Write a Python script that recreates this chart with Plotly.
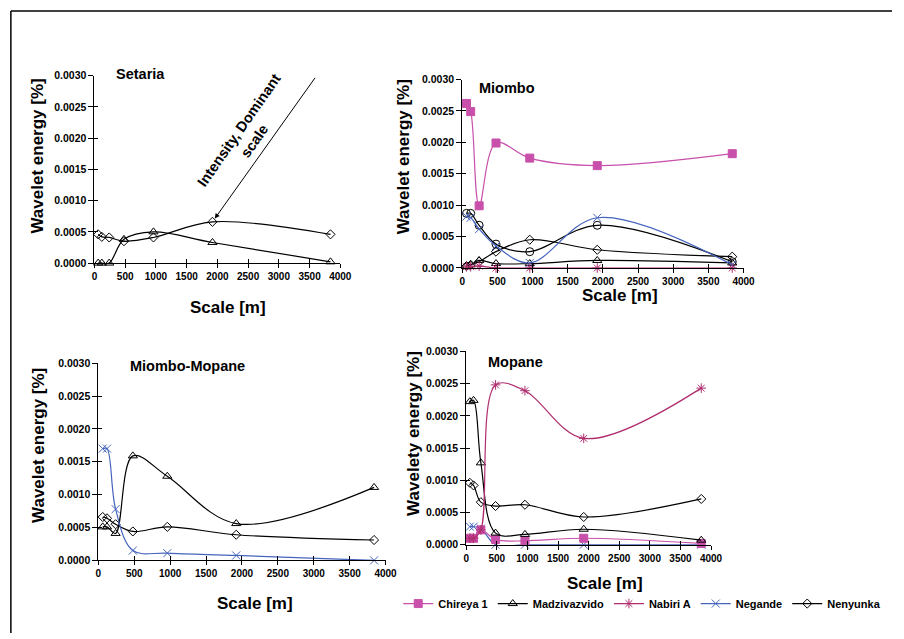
import plotly.graph_objects as go

W, H = 904, 639
FONT = "Liberation Sans, Arial, sans-serif"

# ---------------- data ----------------
scales = [60, 120, 240, 480, 960, 1920, 3840]
x_ticks = [0, 500, 1000, 1500, 2000, 2500, 3000, 3500, 4000]
y_ticks = [0.0, 0.0005, 0.0010, 0.0015, 0.0020, 0.0025, 0.0030]
y_tick_text = ["0.0000", "0.0005", "0.0010", "0.0015", "0.0020", "0.0025", "0.0030"]

# Setaria
set_madz = [0.0, 0.0, 0.0, 0.00038, 0.00050, 0.00033, 0.00002]
set_neny = [0.00046, 0.00042, 0.00041, 0.00035, 0.00041, 0.00066, 0.00046]

# Miombo
mio_chir = [0.00262, 0.00249, 0.00099, 0.00199, 0.00175, 0.00163, 0.00182]
mio_madz = [0.00003, 0.00005, 0.00012, 0.00007, 0.00007, 0.00012, 0.00008]
mio_nabi = [0.00002, 0.00002, 0.00003, 0.0, 0.0, 0.0, 0.0]
mio_nega = [0.00082, 0.00080, 0.00062, 0.00035, 0.00008, 0.00080, 0.00005]
mio_neny = [0.00003, 0.00005, 0.00010, 0.00026, 0.00045, 0.00029, 0.00018]
mio_circ = [0.00087, 0.00087, 0.00068, 0.00038, 0.00026, 0.00068, 0.00010]

# Miombo-Mopane
mm_madz = [0.00051, 0.00051, 0.00041, 0.00159, 0.00128, 0.00056, 0.00111]
mm_nega = [0.00170, 0.00170, 0.00078, 0.00015, 0.00011, 0.000075, 0.0]
mm_neny = [0.00066, 0.00064, 0.00055, 0.00044, 0.00051, 0.00039, 0.00031]

# Mopane
mop_chir = [0.00010, 0.00010, 0.00023, 0.00008, 0.00006, 0.00010, 0.00002]
mop_madz = [0.00222, 0.00224, 0.00127, 0.00018, 0.00016, 0.00024, 0.00007]
mop_nabi = [0.00010, 0.00010, 0.00023, 0.00248, 0.00239, 0.00165, 0.00243]
mop_nega = [0.00028, 0.00028, 0.00025, 0.0, 0.0, 0.0, 0.0]
mop_neny = [0.00096, 0.00092, 0.00066, 0.00060, 0.00062, 0.00043, 0.00071]

# ---------------- styles ----------------
STYLE = {
    "Chireya 1": dict(color="#C850AA", symbol="square", size=8),
    "Madzivazvido": dict(color="#000000", symbol="triangle-up-open", size=8),
    "Nabiri A": dict(color="#AF2D6E", symbol="asterisk-open", size=8),
    "Negande": dict(color="#4664BE", symbol="x-thin-open", size=8),
    "Nenyunka": dict(color="#000000", symbol="diamond-open", size=7),
    "Other": dict(color="#000000", symbol="circle-open", size=8),
}
ORDER = ["Chireya 1", "Madzivazvido", "Nabiri A", "Negande", "Nenyunka"]

# panel pixel boxes: (x0, x1, ytop, ybottom)
PANELS = {
    1: (93, 343, 71, 262),
    2: (467, 753, 75, 267),
    3: (97, 389, 364, 565),
    4: (471, 720, 352, 549),
}

fig = go.Figure()


def add(panel, name, values, legend=False):
    st = STYLE[name]
    sfx = "" if panel == 1 else str(panel)
    fig.add_trace(go.Scatter(
        x=scales, y=values, name=name, mode="lines+markers",
        line=dict(color=st["color"], width=1.2, shape="spline", smoothing=1.0),
        marker=dict(symbol=st["symbol"], size=st["size"], color=st["color"],
                    line=dict(color=st["color"], width=1)),
        xaxis="x" + sfx, yaxis="y" + sfx, cliponaxis=False,
        legendgroup=name, showlegend=legend,
        legendrank=ORDER.index(name) + 1 if name in ORDER else 100,
    ))


add(1, "Madzivazvido", set_madz)
add(1, "Nenyunka", set_neny)

add(2, "Other", mio_circ)
add(2, "Madzivazvido", mio_madz)
add(2, "Nenyunka", mio_neny)
add(2, "Negande", mio_nega)
add(2, "Nabiri A", mio_nabi)
add(2, "Chireya 1", mio_chir)

add(3, "Madzivazvido", mm_madz)
add(3, "Nenyunka", mm_neny)
add(3, "Negande", mm_nega)

add(4, "Nenyunka", mop_neny, True)
add(4, "Negande", mop_nega, True)
add(4, "Chireya 1", mop_chir, True)
add(4, "Madzivazvido", mop_madz, True)
add(4, "Nabiri A", mop_nabi, True)

layout = dict(
    width=W, height=H,
    margin=dict(l=0, r=0, t=0, b=0),
    paper_bgcolor="white", plot_bgcolor="white",
    font=dict(family=FONT, color="black"),
    showlegend=True,
    legend=dict(orientation="h", x=650 / W, xanchor="center",
                y=1 - 609 / H, yanchor="middle",
                font=dict(family=FONT, size=11, weight="bold"),
                itemwidth=30, bgcolor="rgba(0,0,0,0)",
                traceorder="normal"),
)

for p, (x0, x1, yt, yb) in PANELS.items():
    sfx = "" if p == 1 else str(p)
    xd = [x0 / W, x1 / W]
    yd = [1 - yb / H, 1 - yt / H]
    layout["xaxis" + sfx] = dict(
        domain=xd, range=[0, 4000], anchor="y" + sfx,
        tickvals=x_ticks, ticks="outside", ticklen=4, tickcolor="black",
        showline=True, linecolor="black", linewidth=1, showgrid=False, zeroline=False,
        tickfont=dict(family=FONT, size=10, weight="bold"),
    )
    layout["yaxis" + sfx] = dict(
        domain=yd, range=[0, 0.003], anchor="x" + sfx,
        tickvals=y_ticks, ticktext=y_tick_text, ticks="outside", ticklen=5,
        tickcolor="black", showline=True, linecolor="black", linewidth=1,
        showgrid=False, zeroline=False,
        tickfont=dict(family=FONT, size=10.5, weight="bold"),
    )
    # overlay axes that add the inner half of the crossing tick marks
    o = str(p + 4)
    layout["xaxis" + o] = dict(
        domain=xd, range=[0, 4000], anchor="y" + sfx, overlaying="x" + sfx,
        tickvals=x_ticks, ticks="inside", ticklen=4, tickcolor="black",
        showticklabels=False, showline=False, showgrid=False, zeroline=False,
    )
    layout["yaxis" + o] = dict(
        domain=yd, range=[0, 0.003], anchor="x" + sfx, overlaying="y" + sfx,
        tickvals=y_ticks, ticks="inside", ticklen=4, tickcolor="black",
        showticklabels=False, showline=False, showgrid=False, zeroline=False,
    )
    fig.add_trace(go.Scatter(x=[], y=[], xaxis="x" + o, yaxis="y" + o,
                             showlegend=False, hoverinfo="skip"))

fig.update_layout(**layout)


def px_ann(text, cx, cy, size, angle=0):
    fig.add_annotation(
        text=text, x=cx / W, y=1 - cy / H, xref="paper", yref="paper",
        showarrow=False, textangle=angle, xanchor="center", yanchor="middle",
        font=dict(family=FONT, size=size, color="black", weight="bold"),
    )


# axis titles
px_ann("Wavelet energy [%]", 35, 153, 17, -90)
px_ann("Scale [m]", 229, 307, 17)
px_ann("Wavelet energy [%]", 407, 154, 17, -90)
px_ann("Scale [m]", 627, 295, 17)
px_ann("Wavelet energy [%]", 36, 448, 17, -90)
px_ann("Scale [m]", 256, 609, 17)
px_ann("Wavelety energy [%]", 418, 436, 17, -90)
px_ann("Scale [m]", 612, 589, 17)

# panel titles
px_ann("Setaria", 140, 69, 14.5)
px_ann("Miombo", 513, 84, 14.5)
px_ann("Miombo-Mopane", 188, 367, 14.5)
px_ann("Mopane", 521, 363, 14.5)

# Setaria annotation: arrow to the dominant-scale point
fig.add_annotation(
    x=scales[5], y=set_neny[5], xref="x", yref="y",
    text=" ", font=dict(size=1), showarrow=True,
    ax=104, ay=-146, arrowhead=2, arrowsize=1, arrowwidth=1,
    arrowcolor="black", standoff=4,
)
px_ann("Intensity, Dominant<br>scale", 248, 132, 14.5, -55)

# outer frame (left and top edges)
fig.add_shape(type="line", xref="paper", yref="paper",
              x0=8 / W, x1=8 / W, y0=0, y1=1 - 5 / H,
              line=dict(color="black", width=1.5))
fig.add_shape(type="line", xref="paper", yref="paper",
              x0=8 / W, x1=1, y0=1 - 5 / H, y1=1 - 5 / H,
              line=dict(color="black", width=1.5))

fig.write_html(
    "out.html",
    config={"displayModeBar": False},
    post_script="document.body.style.margin='0';document.body.style.padding='0';"
                "document.body.style.overflow='hidden';",
)
